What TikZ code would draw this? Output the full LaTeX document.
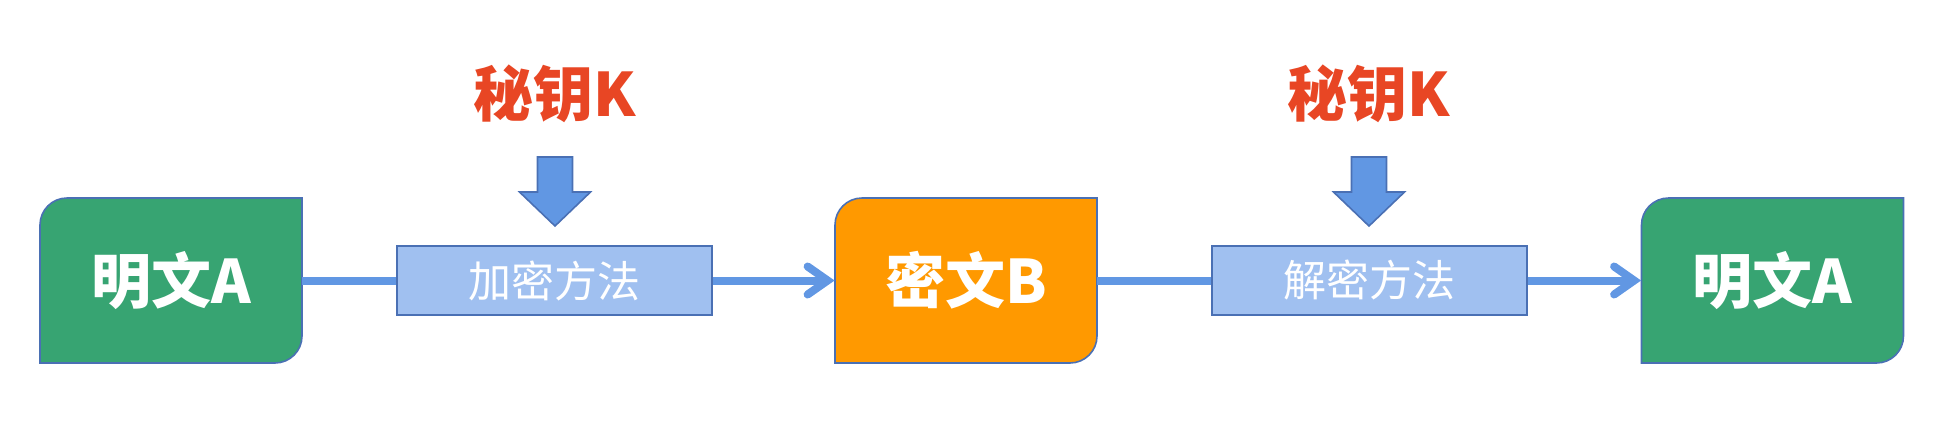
\documentclass[tikz,border=0pt]{standalone}
\usepackage{fontspec}
\newfontfamily\cjk{Noto Sans CJK SC}
\usetikzlibrary{arrows.meta}

\definecolor{plaingreen}{RGB}{55,164,114}
\definecolor{cipherorange}{RGB}{255,153,0}
\definecolor{edgeblue}{RGB}{74,112,180}
\definecolor{methodblue}{RGB}{160,192,240}
\definecolor{flowblue}{RGB}{97,151,227}
\definecolor{keyred}{RGB}{232,70,36}

\tikzset{
  textbox/.style={minimum width=131pt,minimum height=82.5pt,inner sep=0pt,
    text=white,font=\cjk\bfseries\fontsize{30}{30}\selectfont},
  leaf/.style={draw=edgeblue,line width=0.8pt},
  methodbox/.style={draw=edgeblue,line width=1pt,fill=methodblue,
    minimum width=157.5pt,minimum height=34.5pt,inner sep=0pt,
    text=white,font=\cjk\fontsize{21.5}{21.5}\selectfont},
  keytext/.style={text=keyred,font=\cjk\bfseries\fontsize{30}{30}\selectfont},
  flow/.style={draw=flowblue,line width=4pt},
  flowarrow/.style={flow,-{Straight Barb[length=10pt,width=14pt,line cap=round]}},
  keyarrow/.style={fill=flowblue,draw=edgeblue,line width=0.8pt}
}

\begin{document}
\begin{tikzpicture}[x=0.5pt,y=-0.5pt]
  \useasboundingbox (0,0) rectangle (1956,446);
  % boxes with two rounded corners
  \foreach \cx/\col in {171/plaingreen,966/cipherorange,1772.5/plaingreen}
    \filldraw[leaf,fill=\col] (\cx-131,363) -- (\cx+104,363)
      arc[start angle=270,end angle=360,radius=13.5pt] -- (\cx+131,198)
      -- (\cx-104,198) arc[start angle=90,end angle=180,radius=13.5pt] -- cycle;
  \node[textbox] (plainA) at (171,280.5) {明文A};
  \node[methodbox] (encrypt) at (554.5,280.5) {加密方法};
  \node[textbox] (cipher) at (966,280.5) {密文B};
  \node[methodbox] (decrypt) at (1369,280.5) {解密方法};
  \node[textbox] (plainB) at (1772.5,280.5) {明文A};
  \node[keytext] (keyA) at (555,94) {秘钥K};
  \node[keytext] (keyB) at (1369,94) {秘钥K};
  \draw[flow] (plainA) -- (encrypt);
  \draw[flowarrow] (encrypt) -- (cipher);
  \draw[flow] (cipher) -- (decrypt);
  \draw[flowarrow] (decrypt) -- (plainB);
  \foreach \cx in {555,1369}
    \filldraw[keyarrow] (\cx-17.5,157) -- (\cx+17.5,157) -- (\cx+17.5,192)
      -- (\cx+35.5,192) -- (\cx,226) -- (\cx-35.5,192) -- (\cx-17.5,192) -- cycle;
\end{tikzpicture}
\end{document}
